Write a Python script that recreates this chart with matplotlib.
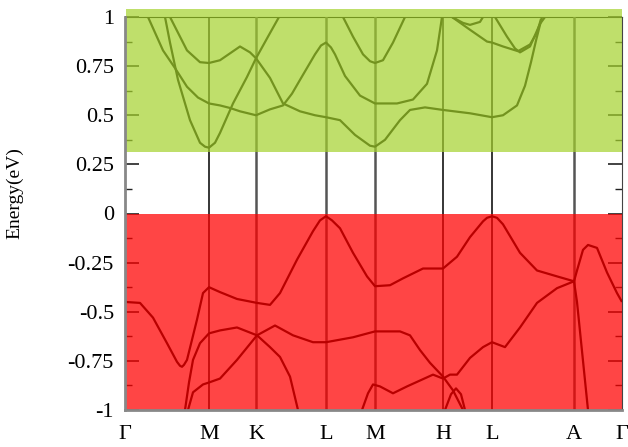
import numpy as np
import matplotlib
matplotlib.use("Agg")
import matplotlib.pyplot as plt
from matplotlib.patches import Rectangle

plt.rcParams['font.family'] = ['Liberation Serif', 'DejaVu Serif']
plt.rcParams['axes.unicode_minus'] = False

# ── high-symmetry path ───────────────────────────────────────
kpts   = [0, 84, 131, 201, 250, 318, 367, 449, 497]
klabel = ['Γ', 'M', 'K', 'L', 'M', 'H', 'L', 'A', 'Γ']
kline_grey = [False, False, True, True, True, False, False, True, False]

# ── conduction bands ─────────────────────────────────────────
c1_k = [23, 38, 50, 62, 73, 84, 95, 105, 115, 131, 145, 158, 167, 175, 190, 196,
        201, 206, 210, 220, 235, 250, 272, 288, 302, 312, 317]
c1_e = [1.0, 0.83, 0.74, 0.645, 0.59, 0.56, 0.55, 0.537, 0.52, 0.50, 0.53, 0.55,
        0.61, 0.68, 0.81, 0.855, 0.87, 0.845, 0.81, 0.70, 0.60, 0.56, 0.56, 0.58,
        0.66, 0.83, 1.0]

c2_k = [40, 45, 53, 65, 75, 80, 84, 90, 95, 108, 122, 131, 143, 154]
c2_e = [1.0, 0.87, 0.68, 0.475, 0.36, 0.34, 0.335, 0.36, 0.41, 0.56, 0.695, 0.79,
        0.90, 1.0]

c3_k = [45, 62, 75, 84, 95, 115, 125, 131, 145, 158, 175, 190, 201, 215, 230, 245,
        250, 260, 275, 285, 300, 318, 345, 367, 378, 392, 400, 406, 411, 417]
c3_e = [1.0, 0.83, 0.77, 0.766, 0.78, 0.85, 0.82, 0.79, 0.69, 0.56, 0.52, 0.50,
        0.49, 0.475, 0.40, 0.345, 0.34, 0.375, 0.475, 0.527, 0.54, 0.527, 0.51,
        0.49, 0.50, 0.55, 0.65, 0.77, 0.88, 1.0]

c4_k = [218, 228, 238, 245, 250, 258, 268, 280]
c4_e = [1.0, 0.90, 0.81, 0.775, 0.766, 0.78, 0.87, 1.0]

c5_k = [327, 338, 345, 355, 358]
c5_e = [1.0, 0.97, 0.96, 0.975, 1.0]

c6_k = [327, 345, 362, 367, 378, 393, 405, 412, 416]
c6_e = [1.0, 0.935, 0.875, 0.87, 0.85, 0.826, 0.86, 0.92, 0.99]

c7_k = [370, 382, 390, 395, 405, 415, 420]
c7_e = [1.0, 0.90, 0.84, 0.82, 0.85, 0.965, 1.0]

# ── valence bands ────────────────────────────────────────────
v1_k = [0, 15, 28, 42, 52, 55, 57, 59, 62, 72, 78, 84, 95, 112, 132, 145, 155, 172,
        188, 195, 201, 207, 215, 228, 242, 250, 265, 278, 298, 318, 332, 345, 358,
        362, 367, 372, 378, 395, 412, 432, 449, 452, 458, 463, 472, 482, 492, 497]
v1_e = [-0.45, -0.455, -0.53, -0.66, -0.755, -0.775, -0.78, -0.77, -0.745, -0.54,
        -0.405, -0.375, -0.40, -0.435, -0.455, -0.465, -0.405, -0.235, -0.09,
        -0.035, -0.014, -0.035, -0.075, -0.20, -0.32, -0.37, -0.365, -0.33, -0.28,
        -0.28, -0.22, -0.12, -0.04, -0.022, -0.014, -0.022, -0.055, -0.20, -0.29,
        -0.32, -0.345, -0.29, -0.185, -0.16, -0.175, -0.30, -0.405, -0.45]

v2_k = [60, 64, 68, 75, 84, 95, 112, 132, 145, 155, 165, 173]
v2_e = [-1.0, -0.86, -0.745, -0.66, -0.61, -0.595, -0.58, -0.62, -0.68, -0.73,
        -0.83, -1.0]

v3_k = [63, 68, 78, 84, 95, 112, 132, 150, 168, 188, 201, 228, 250, 275, 285, 295,
        305, 318, 328, 338]
v3_e = [-1.0, -0.91, -0.87, -0.86, -0.84, -0.745, -0.62, -0.57, -0.62, -0.655,
        -0.655, -0.63, -0.60, -0.60, -0.62, -0.695, -0.76, -0.83, -0.90, -1.0]

v4_k = [237, 243, 248, 255, 268, 282, 295, 308, 318, 325, 332, 345, 358, 367, 380,
        395, 412, 432, 449]
v4_e = [-1.0, -0.915, -0.87, -0.88, -0.915, -0.88, -0.85, -0.82, -0.84, -0.82,
        -0.82, -0.735, -0.68, -0.655, -0.68, -0.58, -0.455, -0.38, -0.345]

v5_k = [320, 326, 331, 336, 340]
v5_e = [-1.0, -0.92, -0.89, -0.92, -1.0]

v6_k = [449, 452, 455, 459, 463]
v6_e = [-0.345, -0.45, -0.6, -0.8, -1.0]

bands = [(c1_k, c1_e), (c2_k, c2_e), (c3_k, c3_e), (c4_k, c4_e), (c5_k, c5_e),
         (c6_k, c6_e), (c7_k, c7_e), (v1_k, v1_e), (v2_k, v2_e), (v3_k, v3_e),
         (v4_k, v4_e), (v5_k, v5_e), (v6_k, v6_e)]

# shaded regions (energy limits)
cb_band = (0.315, 1.04)
vb_band = (-1.0, -0.004)

# ── FIGURE ───────────────────────────────────────────────────
fig = plt.figure(figsize=(6.28, 4.47), dpi=100)
ax = fig.add_axes([125/628, 1 - 410/447, 497/628, 393/447])

for k, e in bands:
    ax.plot(k, e, color='black', lw=1.6, solid_joinstyle='round',
            solid_capstyle='butt', zorder=2)

for kp, grey in zip(kpts[1:-1], kline_grey[1:-1]):
    ax.axvline(kp, color='#555555' if grey else 'black',
               lw=1.8 if grey else 1.1, zorder=1.9)

# semi-transparent overlays on top of the black bands
x0, x1 = 0.5, kpts[-1]
ax.add_patch(Rectangle((x0, cb_band[0]), x1 - x0, cb_band[1] - cb_band[0],
                       facecolor=(165/255, 210/255, 45/255), alpha=0.70,
                       edgecolor='none', zorder=2.2, clip_on=False))
ax.add_patch(Rectangle((x0, vb_band[0]), x1 - x0, vb_band[1] - vb_band[0],
                       facecolor=(1.0, 0.0, 0.0), alpha=0.73,
                       edgecolor='none', zorder=2.2))

ax.set_xlim(kpts[0], kpts[-1])
ax.set_ylim(-1, 1)

yt = [1, 0.75, 0.5, 0.25, 0, -0.25, -0.5, -0.75, -1]
ax.set_yticks(yt)
ax.set_yticklabels(['1', '0.75', '0.5', '0.25', '0', '-0.25', '-0.5', '-0.75', '-1'],
                   fontsize=16)
ax.set_yticks(np.arange(-1, 1.01, 0.125), minor=True)
ax.tick_params(axis='y', which='major', direction='in', length=10, width=1.2,
               right=True, pad=8, color='#222222')
ax.tick_params(axis='y', which='minor', direction='in', length=5, width=1.0,
               right=True, color='#222222')

ax.set_xticks(kpts)
ax.set_xticklabels(klabel, fontsize=16)
ax.tick_params(axis='x', length=0, pad=11)

for s in ['left', 'bottom']:
    ax.spines[s].set_color('#888888')
    ax.spines[s].set_linewidth(2)
ax.spines['right'].set_color('#444444')
ax.spines['top'].set_color('black')
ax.spines['top'].set_zorder(1.5)

fig.text(15/628, 1 - 193/447, 'Energy(eV)', rotation=90, ha='center',
         va='center', fontsize=14)

fig.savefig('out.png', dpi=100)
